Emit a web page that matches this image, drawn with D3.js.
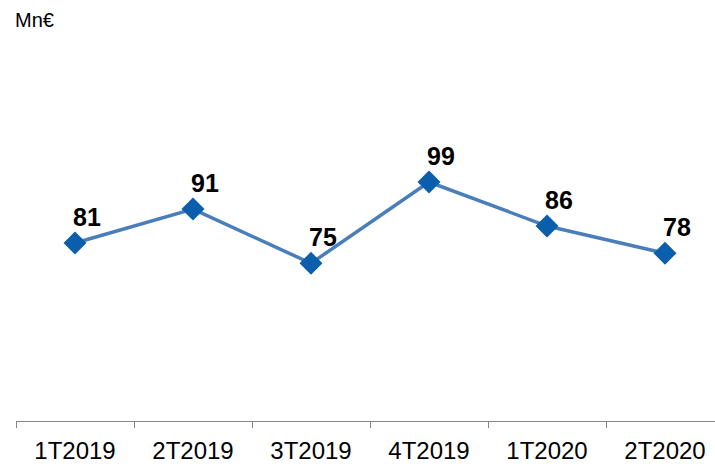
<!DOCTYPE html>
<html>
<head>
<meta charset="utf-8">
<script src="https://cdn.jsdelivr.net/npm/d3@7"></script>
<style>
  body { margin: 0; background: #fff; }
  svg { display: block; font-family: "Liberation Sans", Arial, sans-serif; }
</style>
</head>
<body>
<svg id="chart"></svg>
<script>
const quarters = ['1T2019', '2T2019', '3T2019', '4T2019', '1T2020', '2T2020'];
const values = [81, 91, 75, 99, 86, 78];
const unitLabel = 'Mn€';

const chart_width = 715;
const chart_height = 464;
const axisY = 421;

const svg = d3.select('#chart')
    .attr('width', chart_width)
    .attr('height', chart_height);

const x_scale = d3.scaleBand()
    .domain(quarters)
    .range([16, 724])
    .padding(0);

// hidden value axis, only used to place the points
const y_scale = d3.scaleLinear()
    .domain([0, 100])
    .range([517.6, 178.6]);

// unit label top left
svg.append('text')
    .attr('x', 15)
    .attr('y', 27)
    .attr('font-size', '20px')
    .attr('fill', '#000')
    .text(unitLabel);

// category axis
const x_axis = d3.axisBottom(x_scale)
    .tickSize(7)
    .tickSizeOuter(0);

const gx = svg.append('g')
    .attr('transform', 'translate(0,' + axisY + ')')
    .call(x_axis);

gx.select('.domain')
    .attr('stroke', '#868686')
    .attr('d', 'M16,0.5H715');

// ticks sit on the band edges, not the centres
gx.selectAll('.tick line').remove();
gx.selectAll('.edge')
    .data(quarters)
    .enter()
    .append('line')
    .attr('x1', d => x_scale(d) + 0.5)
    .attr('x2', d => x_scale(d) + 0.5)
    .attr('y1', 0)
    .attr('y2', 7)
    .attr('stroke', '#868686');

gx.selectAll('.tick text')
    .attr('font-size', '24px')
    .attr('font-family', '"Liberation Sans", Arial, sans-serif')
    .attr('fill', '#000')
    .attr('y', 38)
    .attr('dy', 0);

const cx = d => x_scale(d) + x_scale.bandwidth() / 2;

const lineFunc = d3.line()
    .x((d, i) => cx(quarters[i]))
    .y(d => y_scale(d));

svg.append('path')
    .datum(values)
    .attr('fill', 'none')
    .attr('stroke', '#4a7ebb')
    .attr('stroke-width', 3.5)
    .attr('d', lineFunc);

svg.selectAll('.marker')
    .data(values)
    .enter()
    .append('path')
    .attr('class', 'marker')
    .attr('d', 'M0,-11.5L11.5,0L0,11.5L-11.5,0Z')
    .attr('fill', '#0a5eab')
    .attr('transform', (d, i) => 'translate(' + cx(quarters[i]) + ',' + y_scale(d) + ')');

svg.selectAll('.label')
    .data(values)
    .enter()
    .append('text')
    .attr('class', 'label')
    .attr('x', (d, i) => cx(quarters[i]) + 12)
    .attr('y', d => y_scale(d) - 17)
    .attr('text-anchor', 'middle')
    .attr('font-size', '25px')
    .attr('font-weight', 'bold')
    .attr('fill', '#000')
    .text(d => d);
</script>
</body>
</html>
